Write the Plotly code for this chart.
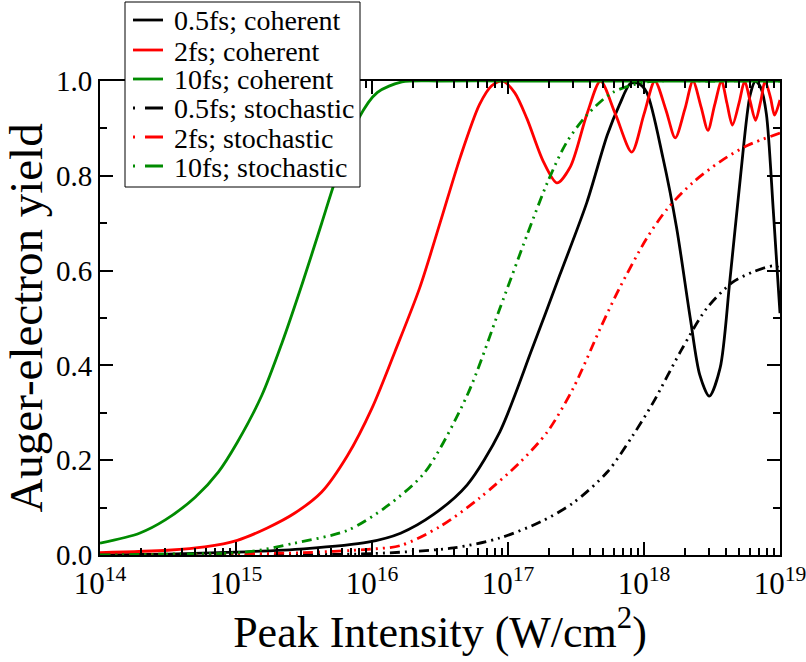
import plotly.graph_objects as go

# ---- data (x given as log10 of peak intensity in W/cm^2) ----
coh_05_logI = [14.0, 14.5, 15.0, 15.5, 15.97, 16.21, 16.45, 16.70, 16.94, 17.18, 17.38, 17.58,
               17.73, 17.82, 17.90, 17.96, 18.02, 18.14, 18.24, 18.34, 18.41, 18.48, 18.56,
               18.63, 18.71, 18.78, 18.82, 18.86, 18.90, 18.95, 19.0]
coh_05_y = [0.0, 0.002, 0.006, 0.013, 0.027, 0.046, 0.085, 0.148, 0.26, 0.437, 0.59, 0.744,
            0.886, 0.95, 0.995, 0.995, 0.976, 0.837, 0.69, 0.50, 0.38, 0.335, 0.395,
            0.575, 0.80, 0.97, 1.0, 0.985, 0.93, 0.73, 0.51]

coh_2_logI = [14.0, 14.5, 14.77, 15.01, 15.23, 15.43, 15.63, 15.82, 16.0, 16.17, 16.35, 16.5,
              16.65, 16.79, 16.88, 16.96, 17.05, 17.14, 17.26, 17.36, 17.46, 17.58, 17.68,
              17.79, 17.91, 18.00, 18.08, 18.16, 18.23, 18.30, 18.36, 18.42, 18.47, 18.52,
              18.57, 18.61, 18.65, 18.70, 18.74, 18.78, 18.82, 18.86, 18.89, 18.93, 18.96, 19.0]
coh_2_y = [0.005, 0.010, 0.017, 0.031, 0.057, 0.088, 0.133, 0.21, 0.31, 0.43, 0.563, 0.70,
           0.84, 0.95, 0.99, 1.0, 0.975, 0.92, 0.83, 0.785, 0.82, 0.93, 1.0,
           0.93, 0.85, 0.93, 1.0, 0.94, 0.88, 0.94, 1.0, 0.945, 0.896, 0.95,
           1.0, 0.953, 0.907, 0.955, 1.0, 0.958, 0.917, 0.96, 1.0, 0.965, 0.928, 0.96]

coh_10_logI = [14.0, 14.29, 14.48, 14.70, 14.87, 15.01, 15.19, 15.34, 15.49, 15.63, 15.73,
               15.90, 16.04, 16.22, 16.5, 17.0, 18.0, 19.0]
coh_10_y = [0.025, 0.046, 0.074, 0.122, 0.175, 0.238, 0.337, 0.449, 0.575, 0.70, 0.79,
            0.92, 0.976, 0.998, 1.0, 1.0, 1.0, 1.0]

sto_05_logI = [14.0, 15.0, 16.0, 16.6, 16.94, 17.24, 17.48, 17.73, 17.92, 18.07, 18.27,
               18.46, 18.65, 18.80, 18.95, 19.0]
sto_05_y = [0.0, 0.0, 0.003, 0.015, 0.036, 0.07, 0.11, 0.175, 0.253, 0.323, 0.43,
            0.52, 0.575, 0.597, 0.61, 0.605]

sto_2_logI = [14.0, 15.0, 15.5, 15.97, 16.21, 16.5, 16.79, 17.09, 17.29, 17.48, 17.68,
              17.82, 18.02, 18.17, 18.36, 18.56, 18.76, 19.0]
sto_2_y = [0.0, 0.002, 0.005, 0.012, 0.02, 0.06, 0.12, 0.196, 0.26, 0.352, 0.479,
           0.563, 0.668, 0.73, 0.786, 0.83, 0.864, 0.89]

sto_10_logI = [14.0, 14.5, 15.07, 15.43, 15.82, 16.12, 16.39, 16.70, 16.94, 17.14, 17.29,
               17.43, 17.58, 17.77, 18.02, 18.5, 19.0]
sto_10_y = [0.0, 0.002, 0.006, 0.025, 0.052, 0.105, 0.175, 0.337, 0.52, 0.675, 0.786,
            0.87, 0.928, 0.976, 0.998, 1.0, 1.0]

tick_exps = [14, 15, 16, 17, 18, 19]
y_ticks = [0.0, 0.2, 0.4, 0.6, 0.8, 1.0]

series = [
    ("0.5fs; coherent", coh_05_logI, coh_05_y, "#000000", "solid"),
    ("2fs; coherent", coh_2_logI, coh_2_y, "#ff0000", "solid"),
    ("10fs; coherent", coh_10_logI, coh_10_y, "#008b00", "solid"),
    ("0.5fs; stochastic", sto_05_logI, sto_05_y, "#000000", "dashdotdot"),
    ("2fs; stochastic", sto_2_logI, sto_2_y, "#ff0000", "dashdotdot"),
    ("10fs; stochastic", sto_10_logI, sto_10_y, "#008b00", "dashdotdot"),
]

FONT = "Liberation Serif"
DDD = "10px,5px,2px,5px,2px,5px"

W, H = 806, 662
ML, MR, MT, MB = 100, 26, 81, 107
PW, PH = W - ML - MR, H - MT - MB


def px2x(px):
    return (px - ML) / PW


def py2y(py):
    return (H - MB - py) / PH


fig = go.Figure()
for name, lx, yy, col, sty in series:
    fig.add_trace(go.Scatter(
        x=[10 ** v for v in lx], y=yy, name=name, mode="lines",
        line=dict(color=col, width=2.8, dash=(DDD if sty == "dashdotdot" else "solid"),
                  shape="spline", smoothing=0.8),
        cliponaxis=True, showlegend=False,
    ))

# ---- legend box (drawn as shapes + text, to match the compact row spacing) ----
shapes = [dict(type="rect", xref="paper", yref="paper",
               x0=px2x(125), x1=px2x(360), y0=py2y(187), y1=py2y(2),
               fillcolor="white", line=dict(color="black", width=1), layer="above")]
annotations = []
row_y = [20, 50, 79, 108, 137, 166]
for (name, lx, yy, col, sty), ry in zip(series, row_y):
    dash = "solid" if sty == "solid" else "2px,10px,18px,60px"
    shapes.append(dict(type="line", xref="paper", yref="paper",
                       x0=px2x(133), x1=px2x(163), y0=py2y(ry), y1=py2y(ry),
                       line=dict(color=col, width=2.8, dash=dash), layer="above"))
    annotations.append(dict(text=name, xref="paper", yref="paper",
                            x=px2x(172), y=py2y(ry + 1), xanchor="left", yanchor="middle",
                            showarrow=False, font=dict(family=FONT, size=28, color="black")))

fig.update_layout(
    width=W, height=H,
    margin=dict(l=ML, r=MR, t=MT, b=MB, autoexpand=False),
    paper_bgcolor="white", plot_bgcolor="white",
    font=dict(family=FONT, color="black", size=28),
    showlegend=False,
    shapes=shapes, annotations=annotations,
)

minor_x = [k * 10 ** e for e in tick_exps[:-1] for k in range(2, 10)]

fig.update_xaxes(
    type="log", range=[14, 19],
    tickvals=[10 ** e for e in tick_exps],
    ticktext=["10<sup>%d</sup>" % e for e in tick_exps],
    tickfont=dict(family=FONT, size=31),
    ticklabeloverflow="allow",
    ticks="inside", ticklen=13, tickwidth=2, tickcolor="black",
    minor=dict(ticks="inside", tickmode="array", tickvals=minor_x, ticklen=7, tickwidth=1.5,
               tickcolor="black", showgrid=False),
    showline=True, linecolor="black", linewidth=2, mirror="allticks",
    showgrid=False, zeroline=False,
    title=dict(text="Peak Intensity (W/cm<sup>2</sup>)", font=dict(family=FONT, size=44), standoff=6),
)
fig.update_yaxes(
    range=[0, 1], tickvals=y_ticks, tickformat=".1f",
    tickfont=dict(family=FONT, size=29),
    ticklabeloverflow="allow",
    ticks="inside", ticklen=13, tickwidth=2, tickcolor="black",
    minor=dict(ticks="inside", ticklen=7, tickwidth=1.5, tickcolor="black", dtick=0.1, showgrid=False),
    showline=True, linecolor="black", linewidth=2, mirror="allticks",
    showgrid=False, zeroline=False,
    title=dict(text="Auger-electron yield", font=dict(family=FONT, size=47), standoff=4),
)

fig.write_html("out.html")
